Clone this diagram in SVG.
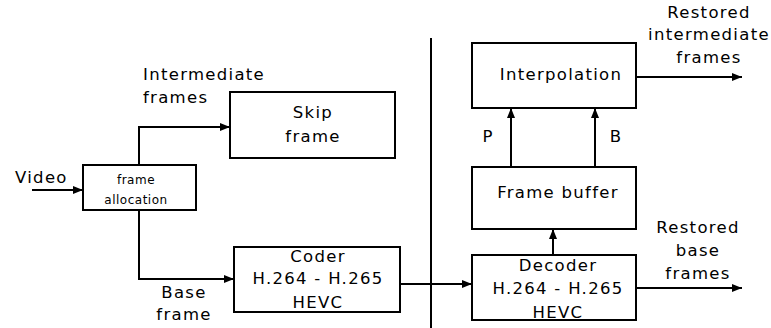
<svg xmlns="http://www.w3.org/2000/svg" width="771" height="328" viewBox="0 0 771 328">
<style>
.box{fill:#fff;stroke:#000;stroke-width:2}
.ln{fill:none;stroke:#000;stroke-width:2}
text{font-family:"DejaVu Sans",Verdana,sans-serif;font-size:16.5px;letter-spacing:1.3px;fill:#000;text-anchor:middle}
.sm{font-size:12px;letter-spacing:0.5px}
.l{text-anchor:start}
</style>
<defs>
<marker id="ah" viewBox="0 0 10 8" refX="10" refY="4" markerWidth="10" markerHeight="8" markerUnits="userSpaceOnUse" orient="auto">
<path d="M0,0 L10,4 L0,8 Z" fill="#000"/>
</marker>
</defs>
<rect width="771" height="328" fill="#fff"/>
<g id="connectors">
<line class="ln" x1="431" y1="38" x2="431" y2="328"/>
<line class="ln" x1="32" y1="190" x2="83" y2="190" marker-end="url(#ah)"/>
<polyline class="ln" points="139,165 139,127 230,127" marker-end="url(#ah)"/>
<polyline class="ln" points="139,210 139,279 234,279" marker-end="url(#ah)"/>
<line class="ln" x1="400" y1="284" x2="472" y2="284" marker-end="url(#ah)"/>
<line class="ln" x1="553" y1="255" x2="553" y2="229" marker-end="url(#ah)"/>
<line class="ln" x1="511" y1="167" x2="511" y2="108" marker-end="url(#ah)"/>
<line class="ln" x1="595" y1="167" x2="595" y2="108" marker-end="url(#ah)"/>
<line class="ln" x1="636" y1="77" x2="742" y2="77" marker-end="url(#ah)"/>
<line class="ln" x1="636" y1="288" x2="742" y2="288" marker-end="url(#ah)"/>
<text class="l" x="15" y="183">Video</text>
<text class="l" x="143" y="80">Intermediate</text>
<text class="l" x="143" y="103">frames</text>
<text x="184" y="298">Base</text>
<text x="184" y="320">frame</text>
<text x="488" y="142">P</text>
<text x="616" y="142">B</text>
<text x="709" y="18">Restored</text>
<text x="709" y="40">intermediate</text>
<text x="709" y="63">frames</text>
<text x="698" y="233">Restored</text>
<text x="698" y="256">base</text>
<text x="698" y="279">frames</text>
</g>
<g id="alloc">
<rect class="box" x="83" y="165" width="113" height="45"/>
<text class="sm" x="136" y="184">frame</text>
<text class="sm" x="136" y="204">allocation</text>
</g>
<g id="skip">
<rect class="box" x="230" y="92" width="165" height="66"/>
<text x="313" y="118">Skip</text>
<text x="313" y="142">frame</text>
</g>
<g id="coder">
<rect class="box" x="234" y="247" width="166" height="65"/>
<text x="318" y="262">Coder</text>
<text x="318" y="284">H.264 - H.265</text>
<text x="318" y="308">HEVC</text>
</g>
<g id="interp">
<rect class="box" x="472" y="43" width="164" height="65"/>
<text x="561" y="80">Interpolation</text>
</g>
<g id="buffer">
<rect class="box" x="472" y="167" width="164" height="62"/>
<text x="558" y="198">Frame buffer</text>
</g>
<g id="decoder">
<rect class="box" x="472" y="255" width="164" height="65"/>
<text x="558" y="271">Decoder</text>
<text x="558" y="294">H.264 - H.265</text>
<text x="558" y="318">HEVC</text>
</g>
</svg>
